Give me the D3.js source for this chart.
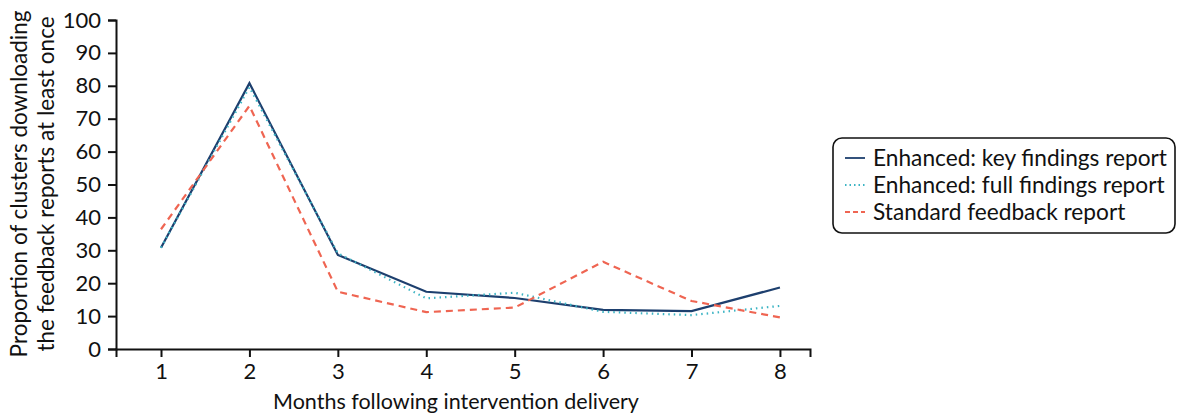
<!DOCTYPE html>
<html>
<head>
<meta charset="utf-8">
<script src="https://cdn.jsdelivr.net/npm/d3@7"></script>
<style>
  html, body { margin: 0; padding: 0; background: #fff; }
  svg { display: block; font-family: Lato, "Open Sans", sans-serif; }
</style>
</head>
<body>
<svg id="chart" width="1177" height="417"></svg>
<script>
// Months following intervention delivery
const months = [1, 2, 3, 4, 5, 6, 7, 8];
// Proportion of clusters (%) downloading each report at least once
const keyFindings = [30.8, 80.8, 28.6, 17.4, 15.5, 11.9, 11.5, 18.7];
const fullFindings = [30.8, 79.6, 29.1, 15.4, 17.1, 11.3, 10.3, 13.1];
const standardReport = [36.4, 73.9, 17.4, 11.2, 12.6, 26.5, 14.6, 9.6];
const yTicks = [0, 10, 20, 30, 40, 50, 60, 70, 80, 90, 100];
const seriesNames = ["Enhanced: key findings report", "Enhanced: full findings report", "Standard feedback report"];

const svg = d3.select("#chart");
const plotLeft = 116, plotRight = 810, plotTop = 20, plotBottom = 349;

const x = d3.scaleLinear().domain([0.491, 8.34]).range([plotLeft, plotRight]);
const y = d3.scaleLinear().domain([0, 100]).range([plotBottom, plotTop]);

const styles = [
  { color: "#1d3f6e", dash: null, width: 2.2 },
  { color: "#3cb4c4", dash: "1.5,4", width: 2.2 },
  { color: "#ef6552", dash: "7,5", width: 2.2 }
];
const seriesValues = [keyFindings, fullFindings, standardReport];

// Axes
const xAxis = svg.append("g")
  .attr("transform", `translate(0,${plotBottom})`)
  .call(d3.axisBottom(x).tickValues(months).tickFormat(d3.format("d")).tickSizeOuter(0).tickSize(8).tickPadding(6));
const yAxis = svg.append("g")
  .attr("transform", `translate(${plotLeft},0)`)
  .call(d3.axisLeft(y).tickValues(yTicks).tickSizeOuter(0).tickSize(8).tickPadding(7));

[xAxis, yAxis].forEach(a => {
  a.select(".domain").attr("stroke", "#111").attr("stroke-width", 2);
  a.selectAll(".tick line").attr("stroke", "#111").attr("stroke-width", 2);
  a.selectAll(".tick text").attr("fill", "#111").style("font-size", "22px").style("font-family", "Lato, sans-serif");
});

// Lines
const line = d3.line().x((d, i) => x(months[i])).y(d => y(d));
seriesValues.forEach((vals, k) => {
  svg.append("path")
    .datum(vals)
    .attr("fill", "none")
    .attr("stroke", styles[k].color)
    .attr("stroke-width", styles[k].width)
    .attr("stroke-dasharray", styles[k].dash)
    .attr("stroke-linejoin", "miter")
    .attr("d", line);
});

// Axis titles
svg.append("text")
  .attr("x", 456).attr("y", 409)
  .attr("text-anchor", "middle")
  .style("font-size", "21.5px").attr("fill", "#111")
  .text("Months following intervention delivery");

const yTitle = svg.append("text")
  .attr("transform", "translate(0,184) rotate(-90)")
  .attr("text-anchor", "middle")
  .style("font-size", "22.5px").attr("fill", "#111");
yTitle.append("tspan").attr("x", 0).attr("y", 27).text("Proportion of clusters downloading");
yTitle.append("tspan").attr("x", 0).attr("y", 54).text("the feedback reports at least once");

// Legend
const lg = svg.append("g").attr("transform", "translate(833,138)");
lg.append("rect")
  .attr("x", 0).attr("y", 0).attr("width", 342).attr("height", 95)
  .attr("rx", 9).attr("ry", 9)
  .attr("fill", "#fff").attr("stroke", "#111").attr("stroke-width", 1.6);
seriesNames.forEach((name, k) => {
  const cy = 20 + k * 27;
  lg.append("line")
    .attr("x1", 12).attr("x2", 32).attr("y1", cy).attr("y2", cy)
    .attr("stroke", styles[k].color).attr("stroke-width", 1.8)
    .attr("stroke-dasharray", k === 1 ? "1.5,3" : (k === 2 ? "5,3" : null));
  lg.append("text")
    .attr("x", 40).attr("y", cy + 8)
    .style("font-size", "22.7px").attr("fill", "#111")
    .text(name);
});
</script>
</body>
</html>
